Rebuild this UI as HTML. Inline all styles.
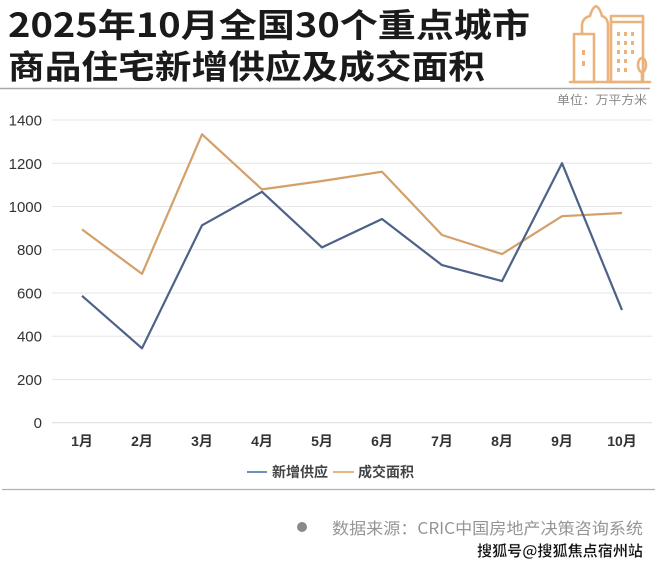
<!DOCTYPE html>
<html>
<head>
<meta charset="utf-8">
<style>
html,body{margin:0;padding:0;background:#fff;}
body{width:660px;height:568px;overflow:hidden;}
svg{display:block;}
text{font-family:"Liberation Sans","Noto Sans CJK SC",sans-serif;}
.cjk{font-family:"Noto Sans CJK SC","Liberation Sans",sans-serif;}
</style>
</head>
<body>
<svg width="660" height="568" viewBox="0 0 660 568" xmlns="http://www.w3.org/2000/svg">
  <rect width="660" height="568" fill="#fff"/>
  <!-- Title -->
  <text class="cjk" x="8" y="37" font-size="33" font-weight="bold" fill="#1a1a1a" textLength="522" lengthAdjust="spacingAndGlyphs">2025年10月全国30个重点城市</text>
  <text class="cjk" x="8" y="78.5" font-size="33" font-weight="bold" fill="#1a1a1a" textLength="477" lengthAdjust="spacingAndGlyphs">商品住宅新增供应及成交面积</text>

  <!-- Icon -->
  <g fill="none" stroke="#ecb27c" stroke-width="2.6" stroke-linejoin="round" stroke-linecap="round">
    <line x1="570" y1="82" x2="650" y2="82"/>
    <rect x="574" y="34" width="20" height="48"/>
    <path d="M582 34 V26 Q582 18 590 16 Q592 8 596 6 Q600 8 602 16 Q608 18 608 26 V82"/>
    <rect x="611" y="16" width="32" height="66"/>
    <line x1="611" y1="22" x2="643" y2="22"/>
    <ellipse cx="642" cy="65" rx="4" ry="7"/>
    <line x1="642" y1="72" x2="642" y2="82"/>
  </g>
  <g fill="#ecb27c">
    <rect x="582" y="50" width="3" height="5"/><rect x="582" y="61" width="3" height="5"/>
    <rect x="617" y="32" width="3" height="4"/><rect x="624" y="32" width="3" height="4"/><rect x="631" y="32" width="3" height="4"/>
    <rect x="617" y="41" width="3" height="4"/><rect x="624" y="41" width="3" height="4"/><rect x="631" y="41" width="3" height="4"/>
    <rect x="617" y="50" width="3" height="4"/><rect x="624" y="50" width="3" height="4"/><rect x="631" y="50" width="3" height="4"/>
    <rect x="617" y="59" width="3" height="4"/><rect x="624" y="59" width="3" height="4"/>
    <rect x="617" y="68" width="3" height="4"/><rect x="624" y="68" width="3" height="4"/>
  </g>

  <!-- title separator -->
  <line x1="0" y1="88.5" x2="650" y2="88.5" stroke="#a8a8a8" stroke-width="1.5"/>
  <text class="cjk" x="557" y="104" font-size="12" fill="#888" textLength="90" lengthAdjust="spacingAndGlyphs">单位：万平方米</text>

  <!-- gridlines -->
  <g stroke="#e6e6e6" stroke-width="1">
    <line x1="52" y1="120" x2="652" y2="120"/>
    <line x1="52" y1="163.3" x2="652" y2="163.3"/>
    <line x1="52" y1="206.5" x2="652" y2="206.5"/>
    <line x1="52" y1="249.7" x2="652" y2="249.7"/>
    <line x1="52" y1="293" x2="652" y2="293"/>
    <line x1="52" y1="336.2" x2="652" y2="336.2"/>
    <line x1="52" y1="379.5" x2="652" y2="379.5"/>
    <line x1="52" y1="422.7" x2="652" y2="422.7" stroke="#dcdcdc"/>
  </g>

  <!-- y labels -->
  <g font-size="15" fill="#333" text-anchor="end">
    <text x="42" y="125.5">1400</text>
    <text x="42" y="168.8">1200</text>
    <text x="42" y="212">1000</text>
    <text x="42" y="255.2">800</text>
    <text x="42" y="298.5">600</text>
    <text x="42" y="341.7">400</text>
    <text x="42" y="385">200</text>
    <text x="42" y="428.2">0</text>
  </g>

  <!-- x labels -->
  <g font-size="14" font-weight="bold" fill="#333" text-anchor="middle">
    <text x="82" y="446">1月</text>
    <text x="142" y="446">2月</text>
    <text x="202" y="446">3月</text>
    <text x="262" y="446">4月</text>
    <text x="322" y="446">5月</text>
    <text x="382" y="446">6月</text>
    <text x="442" y="446">7月</text>
    <text x="502" y="446">8月</text>
    <text x="562" y="446">9月</text>
    <text x="622" y="446">10月</text>
  </g>

  <!-- series -->
  <polyline fill="none" stroke="#d3a06a" stroke-width="2.2" stroke-linejoin="round"
    points="82,229.4 142,273.9 202,134.3 262,189.4 322,181 382,171.7 442,235 502,254.1 562,216.2 622,213"/>
  <polyline fill="none" stroke="#4d6189" stroke-width="2.2" stroke-linejoin="round"
    points="82,295.8 142,348.3 202,225.3 262,191.8 322,247.4 382,219 442,265.1 502,281.1 562,163.2 622,310.1"/>

  <!-- legend -->
  <line x1="247" y1="472" x2="267" y2="472" stroke="#6f8fbf" stroke-width="2"/>
  <text x="272" y="477" font-size="14" font-weight="bold" fill="#444">新增供应</text>
  <line x1="333" y1="472" x2="354" y2="472" stroke="#e7b582" stroke-width="2"/>
  <text x="358" y="477" font-size="14" font-weight="bold" fill="#444">成交面积</text>

  <!-- bottom separator -->
  <line x1="2" y1="489.5" x2="655" y2="489.5" stroke="#b0b0b0" stroke-width="1.2"/>

  <!-- footer -->
  <circle cx="302" cy="527" r="5" fill="#8a8a8a"/>
  <text class="cjk" x="332" y="534" font-size="16" fill="#959595" textLength="311" lengthAdjust="spacingAndGlyphs">数据来源：CRIC中国房地产决策咨询系统</text>
  <text class="cjk" x="477" y="556" font-size="15" font-weight="bold" fill="#111" stroke="#fff" stroke-width="0.3" textLength="166" lengthAdjust="spacingAndGlyphs">搜狐号@搜狐焦点宿州站</text>
</svg>
</body>
</html>
